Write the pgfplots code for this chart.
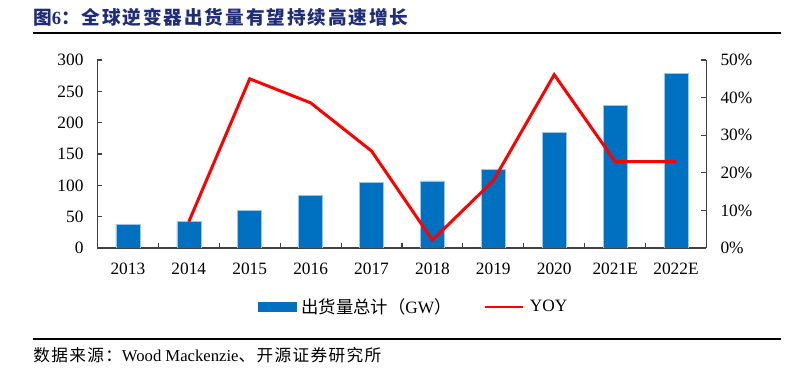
\documentclass[border=0pt]{standalone}
\usepackage{pgfplots}
\pgfplotsset{compat=1.18}
\usepackage{fontspec}
\setmainfont{Liberation Serif}
\newfontfamily\cjk{Noto Sans CJK SC}
\newfontfamily\cjkt[LetterSpace=10]{Noto Sans CJK SC}
\newfontfamily\cjks[LetterSpace=8]{Noto Sans CJK SC}
\definecolor{barblue}{HTML}{0070C0}
\definecolor{baredge}{HTML}{9DC3E6}
\definecolor{titleblue}{HTML}{1F2D78}
\definecolor{axisgray}{HTML}{404040}
\begin{document}
\begin{tikzpicture}
\useasboundingbox (0,0) rectangle (603pt,294pt);
% title
\node[anchor=west, inner sep=0pt, text=titleblue, font=\fontsize{14pt}{16pt}\selectfont] at (24.75pt,281.25pt)
  {{\cjkt\bfseries 图}{\bfseries 6}{\cjkt\bfseries ：全球逆变器出货量有望持续高速增长}};
\draw[line width=1.1pt, black] (24.75pt,269.25pt) -- (585.75pt,269.25pt);
% source
\draw[line width=1.1pt, black] (24.75pt,39.75pt) -- (585.75pt,39.75pt);
\node[anchor=west, inner sep=0pt, font=\fontsize{12.5pt}{14pt}\selectfont] at (24.75pt,27.75pt)
  {{\cjks 数据来源：}Wood Mackenzie{\cjks 、开源证券研究所}};

\begin{axis}[
  at={(73.1pt,108pt)}, anchor=south west,
  scale only axis, width=456.75pt, height=141pt,
  xmin=-0.5, xmax=9.5, ymin=0, ymax=300,
  axis y line*=left, axis x line*=bottom,
  axis line style={axisgray, line width=0.8pt, -},
  tick align=inside,
  major tick length=3.75pt, minor tick length=3.75pt,
  tick style={axisgray, line width=0.8pt},
  xtick={0,...,9},
  xticklabels={2013,2014,2015,2016,2017,2018,2019,2020,2021E,2022E},
  major x tick style={draw=none},
  minor xtick={0.5,1.5,...,8.5},
  ytick={0,50,...,300},
  ticklabel style={font=\fontsize{13pt}{15pt}\selectfont},
  /pgf/number format/assume math mode=true,
  xticklabel style={yshift=-8pt},
  yticklabel style={xshift=-7pt},
]
\addplot[ybar, bar width=18pt, bar shift=0pt, fill=barblue, draw=baredge, line width=0.4pt]
  coordinates {(0,38) (1,42) (2,60) (3,83.5) (4,104.5) (5,107) (6,126) (7,184.5) (8,227) (9,279)};
\end{axis}

\begin{axis}[
  at={(73.1pt,108pt)}, anchor=south west,
  scale only axis, width=456.75pt, height=141pt,
  xmin=-0.5, xmax=9.5, ymin=0, ymax=50,
  axis y line*=right, axis x line=none,
  axis line style={axisgray, line width=0.8pt, -},
  tick align=inside,
  major tick length=3.75pt,
  tick style={axisgray, line width=0.8pt},
  ytick={0,10,...,50},
  yticklabel={\pgfmathprintnumber{\tick}\%},
  ticklabel style={font=\fontsize{13pt}{15pt}\selectfont},
  /pgf/number format/assume math mode=true,
  yticklabel style={xshift=7pt},
  legend style={at={(0.52,-0.312)}, anchor=center, draw=none, fill=none,
    legend columns=2, font=\fontsize{13pt}{15pt}\selectfont,
    /tikz/every even column/.append style={column sep=22pt},
    /tikz/every odd column/.append style={column sep=2pt},
    inner sep=0pt},
]
\addlegendimage{legend image code/.code={\fill[barblue] (0pt,-3.1pt) rectangle (28pt,3.1pt);}}
\addlegendentry{{\cjk 出货量总计（}GW{\cjk ）}}
\addlegendimage{legend image code/.code={\draw[red, line width=1.6pt] (0pt,0pt) -- (29pt,0pt);}}
\addlegendentry{YOY}
\addplot[red, line width=2.25pt, mark=none]
  coordinates {(1,7) (2,45) (3,38.6) (4,25.8) (5,2.1) (6,17.9) (7,46.1) (8,23) (9,23)};
\end{axis}
\end{tikzpicture}
\end{document}
